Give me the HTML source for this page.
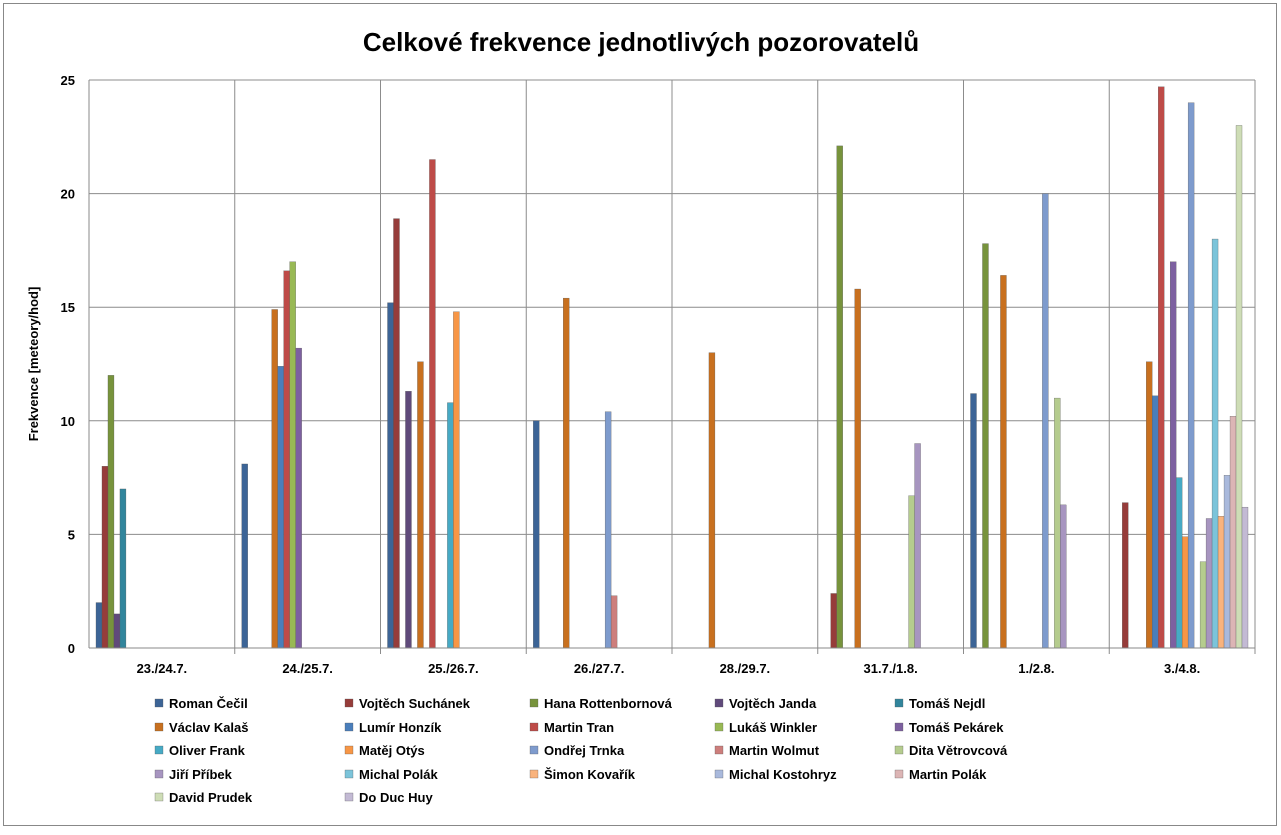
<!DOCTYPE html>
<html><head><meta charset="utf-8">
<style>
body{margin:0;background:#fff;font-family:"Liberation Sans",sans-serif;}
svg text{font-family:"Liberation Sans","DejaVu Sans",sans-serif;}
</style></head><body>
<svg id="chart" width="1281" height="830" xmlns="http://www.w3.org/2000/svg">
<rect x="3.5" y="3.5" width="1273" height="822" fill="#fff" stroke="#888" stroke-width="1"/>
<text x="641" y="51" text-anchor="middle" font-size="26" font-weight="bold" fill="#000">Celkové frekvence jednotlivých pozorovatelů</text>
<text transform="translate(38,364) rotate(-90)" text-anchor="middle" font-size="13" font-weight="bold">Frekvence [meteory/hod]</text>
<g id="grid"></g><g id="bars"></g><g id="axes"></g><g id="legend"></g>
</svg>
<script>
const categories=["23./24.7.","24./25.7.","25./26.7.","26./27.7.","28./29.7.","31.7./1.8.","1./2.8.","3./4.8."];
const seriesNames=["Roman Čečil","Vojtěch Suchánek","Hana Rottenbornová","Vojtěch Janda","Tomáš Nejdl","Václav Kalaš","Lumír Honzík","Martin Tran","Lukáš Winkler","Tomáš Pekárek","Oliver Frank","Matěj Otýs","Ondřej Trnka","Martin Wolmut","Dita Větrovcová","Jiří Příbek","Michal Polák","Šimon Kovařík","Michal Kostohryz","Martin Polák","David Prudek","Do Duc Huy"];
const colors=["#3C6496","#963C3A","#77933C","#604A7B","#31859C","#C8701F","#4A7EBB","#BE4B48","#98B954","#7D60A0","#46AAC5","#F79646","#7E9BCD","#CD7E7C","#B5CC8E","#A795C0","#7CC4DA","#F9B37D","#A9B9DC","#DCB5B5","#CEDDB6","#C3BAD4"];
const s0=[2,8.1,15.2,10,0,0,11.2,0];
const s1=[8,0,18.9,0,0,2.4,0,6.4];
const s2=[12,0,0,0,0,22.1,17.8,0];
const s3=[1.5,0,11.3,0,0,0,0,0];
const s4=[7,0,0,0,0,0,0,0];
const s5=[0,14.9,12.6,15.4,13,15.8,16.4,12.6];
const s6=[0,12.4,0,0,0,0,0,11.1];
const s7=[0,16.6,21.5,0,0,0,0,24.7];
const s8=[0,17,0,0,0,0,0,0];
const s9=[0,13.2,0,0,0,0,0,17];
const s10=[0,0,10.8,0,0,0,0,7.5];
const s11=[0,0,14.8,0,0,0,0,4.9];
const s12=[0,0,0,10.4,0,0,20,24];
const s13=[0,0,0,2.3,0,0,0,0];
const s14=[0,0,0,0,0,6.7,11,3.8];
const s15=[0,0,0,0,0,9,6.3,5.7];
const s16=[0,0,0,0,0,0,0,18];
const s17=[0,0,0,0,0,0,0,5.8];
const s18=[0,0,0,0,0,0,0,7.6];
const s19=[0,0,0,0,0,0,0,10.2];
const s20=[0,0,0,0,0,0,0,23];
const s21=[0,0,0,0,0,0,0,6.2];
const yTicks=[0,5,10,15,20,25];
const series=[s0,s1,s2,s3,s4,s5,s6,s7,s8,s9,s10,s11,s12,s13,s14,s15,s16,s17,s18,s19,s20,s21];
const NS="http://www.w3.org/2000/svg";
const X0=89,X1=1255,Y0=648,Y1=80,YMAX=25;
const catW=(X1-X0)/categories.length;
const y=v=>Y0-(v/YMAX)*(Y0-Y1);
const gap=7,bw=(catW-2*gap)/series.length;
function mk(t,a,p){const e=document.createElementNS(NS,t);for(const k in a)e.setAttribute(k,a[k]);p.appendChild(e);return e;}
const grid=document.getElementById('grid'),bars=document.getElementById('bars'),axes=document.getElementById('axes'),leg=document.getElementById('legend');
yTicks.forEach(t=>{
 const l=mk('line',{x1:X0,x2:X1,y1:y(t),y2:y(t),stroke:'#8c8c8c','stroke-width':1},grid);
 
 
 const tx=mk('text',{x:X0-14,y:y(t)+5,'text-anchor':'end','font-size':13,'font-weight':'bold'},axes);
 tx.textContent=t;
 
 
});
for(let i=0;i<=categories.length;i++){
 const l=mk('line',{x1:X0+i*catW,x2:X0+i*catW,y1:Y1,y2:Y0+(i==0?0:6),stroke:'#8c8c8c','stroke-width':1},grid);
 
 
}
categories.forEach((c,i)=>{
 const tx=mk('text',{x:X0+(i+0.5)*catW,y:Y0+25,'text-anchor':'middle','font-size':13,'font-weight':'bold'},axes);
 tx.textContent=c;
 
 
});
series.forEach((s,j)=>{
 s.forEach((v,i)=>{
  if(!v)return;
  const r=mk('rect',{x:X0+i*catW+gap+j*bw,y:y(v),width:bw,height:Y0-y(v),fill:colors[j],stroke:'#555','stroke-width':0.3},bars);
  
  
 });
});
mk('line',{x1:X0,x2:X1,y1:Y0,y2:Y0,stroke:'#888'},axes);
mk('line',{x1:X0,x2:X0,y1:Y1,y2:Y0,stroke:'#888'},axes);
const colX=[155,345,530,715,895],rowY=[703,727,750,774,797];
seriesNames.forEach((n,j)=>{
 const cx=colX[j%5],cy=rowY[Math.floor(j/5)];
 const g=mk('g',{},leg);
 
 
 mk('rect',{x:cx,y:cy-4,width:8,height:8,fill:colors[j],stroke:'#555','stroke-width':0.3},g);
 const t=mk('text',{x:cx+14,y:cy+5,'font-size':13,'font-weight':'bold'},g);
 t.textContent=n;
});
</script>
</body></html>
